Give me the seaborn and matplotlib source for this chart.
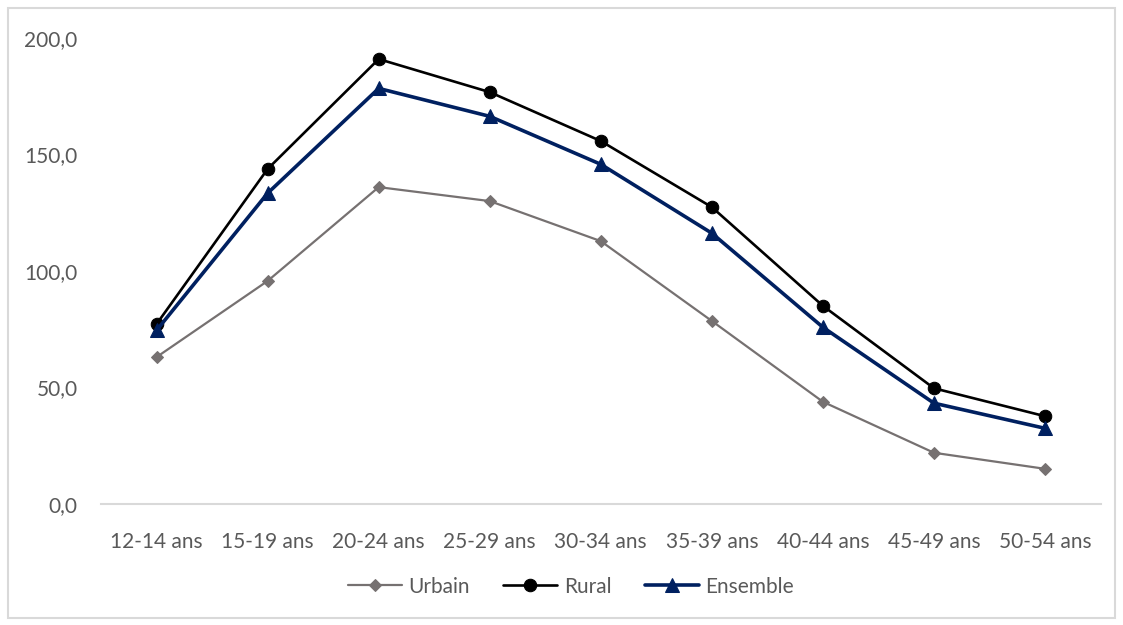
import seaborn as sns
import matplotlib.pyplot as plt
import matplotlib.patches as patches
import pandas as pd

ages = ['12-14 ans', '15-19 ans', '20-24 ans', '25-29 ans', '30-34 ans',
        '35-39 ans', '40-44 ans', '45-49 ans', '50-54 ans']
urbain = [63.0, 95.7, 136.0, 130.0, 112.8, 78.5, 43.8, 21.9, 15.0]
rural = [77.2, 143.8, 191.0, 176.8, 155.8, 127.4, 85.0, 49.6, 37.6]
ensemble = [74.5, 133.4, 178.4, 166.4, 145.8, 116.2, 75.8, 43.2, 32.4]

series = ['Urbain', 'Rural', 'Ensemble']
colors = {'Urbain': '#767171', 'Rural': '#000000', 'Ensemble': '#002060'}
markers = {'Urbain': 'D', 'Rural': 'o', 'Ensemble': '^'}
widths = {'Urbain': 1.6, 'Rural': 1.9, 'Ensemble': 2.6}
msizes = {'Urbain': 6, 'Rural': 9, 'Ensemble': 9.5}

df = pd.DataFrame({
    'age': ages * 3,
    'x': list(range(len(ages))) * 3,
    'valeur': urbain + rural + ensemble,
    'serie': ['Urbain'] * 9 + ['Rural'] * 9 + ['Ensemble'] * 9,
})

sns.set_theme(style='white')
plt.rcParams['font.family'] = ['Lato', 'DejaVu Sans']

fig = plt.figure(figsize=(11.23, 6.25), dpi=100)
ax = fig.add_axes([0.09, 0.194, 0.89, 0.745])

for s in series:
    d = df[df['serie'] == s]
    sns.lineplot(data=d, x='x', y='valeur', ax=ax, color=colors[s],
                 marker=markers[s], markersize=msizes[s], linewidth=widths[s],
                 markeredgecolor=colors[s], label=s)

ax.set_xlim(-0.5, len(ages) - 0.5)
ax.set_ylim(0, 200)
ax.set_xticks(range(len(ages)))
ax.set_xticklabels(ages)
ax.set_yticks([0, 50, 100, 150, 200])
ax.set_yticklabels(['0,0', '50,0', '100,0', '150,0', '200,0'])
ax.tick_params(axis='both', labelsize=15, labelcolor='#595959', length=0)
ax.tick_params(axis='x', pad=20)
ax.tick_params(axis='y', pad=17)
ax.set_xlabel('')
ax.set_ylabel('')
for side in ['top', 'right', 'left']:
    ax.spines[side].set_visible(False)
ax.spines['bottom'].set_color('#d9d9d9')
ax.spines['bottom'].set_linewidth(1.5)

ax.legend(loc='center', bbox_to_anchor=(0.47, -0.178), ncol=3, frameon=False,
          fontsize=15, labelcolor='#595959', handlelength=2.6, columnspacing=1.6,
          handletextpad=0.3)

fig.patches.append(patches.Rectangle((0.007, 0.012), 0.986, 0.976,
                                     transform=fig.transFigure, fill=False,
                                     edgecolor='#d9d9d9', linewidth=1.5))

fig.savefig('out.png', dpi=100)
